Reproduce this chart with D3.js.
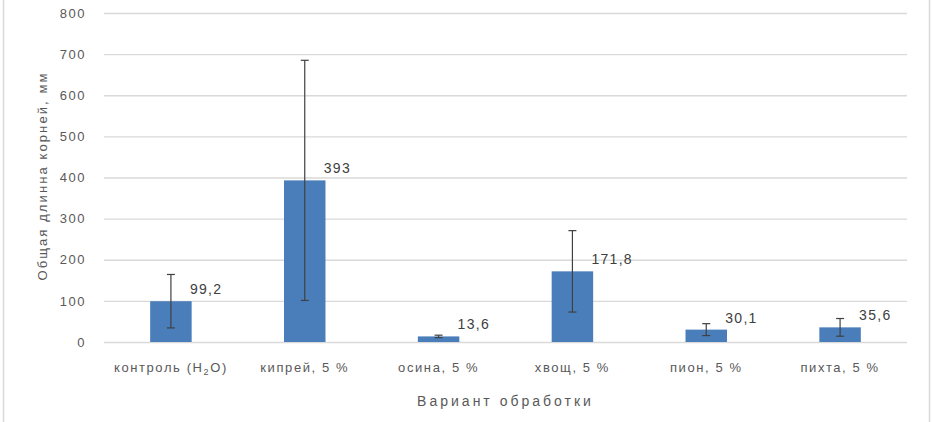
<!DOCTYPE html>
<html>
<head>
<meta charset="utf-8">
<script src="https://cdn.jsdelivr.net/npm/d3@7"></script>
<style>
  body { margin: 0; background: #fff; }
  text { font-family: "Liberation Sans", Arial, sans-serif; }
</style>
</head>
<body>
<div id="chartdiv"></div>
<script>
// data
var categories = ["контроль (H2O)", "кипрей, 5 %", "осина, 5 %", "хвощ, 5 %", "пион, 5 %", "пихта, 5 %"];
var values = [99.2, 393, 13.6, 171.8, 30.1, 35.6];
var errors = [65, 292, 3, 99, 14.5, 21.5];
var yTicks = [0, 100, 200, 300, 400, 500, 600, 700, 800];

var svgWidth = 935;
var svgHeight = 422;
var margin = { top: 13, right: 28, bottom: 80, left: 104 };
var width = svgWidth - margin.left - margin.right;
var height = svgHeight - margin.top - margin.bottom;

var svg = d3.select("#chartdiv")
    .append("svg")
    .attr("width", svgWidth)
    .attr("height", svgHeight);

// chart area border (only left and right edges are visible)
svg.append("line").attr("x1", 3.5).attr("x2", 3.5).attr("y1", 0).attr("y2", svgHeight)
    .attr("stroke", "#d9d9d9").attr("stroke-width", 1.5);
svg.append("line").attr("x1", 929.5).attr("x2", 929.5).attr("y1", 0).attr("y2", svgHeight)
    .attr("stroke", "#d9d9d9").attr("stroke-width", 1.5);

var chartGroup = svg.append("g")
    .attr("transform", `translate(${margin.left}, ${margin.top})`);

var data = categories.map(function (c, i) {
    return { cat: c, value: values[i], err: errors[i] };
});

var xScale = d3.scaleBand()
    .domain(categories)
    .range([0, width])
    .paddingInner(0.69)
    .paddingOuter(0.345);

var yScale = d3.scaleLinear()
    .domain([0, 800])
    .range([height, 0]);

// gridlines + y ticks
var leftAxis = d3.axisLeft(yScale)
    .tickValues(yTicks)
    .tickSize(-width)
    .tickPadding(18);

var yAxisG = chartGroup.append("g").call(leftAxis);
yAxisG.select(".domain").remove();
yAxisG.selectAll(".tick line").attr("stroke", "#d9d9d9").attr("stroke-width", 1.3);
yAxisG.selectAll(".tick text")
    .attr("fill", "#595959")
    .style("font-size", "13px")
    .style("letter-spacing", "1.5px");

// x category labels
var bottomAxis = d3.axisBottom(xScale).tickSize(0).tickPadding(21);
var xAxisG = chartGroup.append("g")
    .attr("transform", `translate(0, ${height})`)
    .call(bottomAxis);
xAxisG.select(".domain").remove();
xAxisG.selectAll(".tick text")
    .attr("fill", "#595959")
    .style("font-size", "13px")
    .style("letter-spacing", "1.6px")
    .each(function (d) {
        if (d.indexOf("H2O") >= 0) {
            var t = d3.select(this);
            t.text("");
            t.append("tspan").text("контроль (H");
            t.append("tspan").text("2").style("font-size", "9px").attr("dy", 3);
            t.append("tspan").text("O)").attr("dy", -3);
        }
    });

// bars
chartGroup.selectAll("rect.bar")
    .data(data)
    .enter()
    .append("rect")
    .attr("class", "bar")
    .attr("x", d => xScale(d.cat))
    .attr("y", d => yScale(d.value))
    .attr("width", xScale.bandwidth())
    .attr("height", d => height - yScale(d.value))
    .attr("fill", "#4a7ebb");

// error bars
var cx = d => xScale(d.cat) + xScale.bandwidth() / 2;
var eb = chartGroup.selectAll("g.err")
    .data(data)
    .enter()
    .append("g")
    .attr("class", "err")
    .attr("stroke", "#404040")
    .attr("stroke-width", 1.2);

eb.append("line")
    .attr("x1", cx).attr("x2", cx)
    .attr("y1", d => yScale(d.value + d.err))
    .attr("y2", d => yScale(Math.max(0, d.value - d.err)));
eb.append("line")
    .attr("x1", d => cx(d) - 4).attr("x2", d => cx(d) + 4)
    .attr("y1", d => yScale(d.value + d.err))
    .attr("y2", d => yScale(d.value + d.err));
eb.append("line")
    .attr("x1", d => cx(d) - 4).attr("x2", d => cx(d) + 4)
    .attr("y1", d => yScale(Math.max(0, d.value - d.err)))
    .attr("y2", d => yScale(Math.max(0, d.value - d.err)));

// value labels
chartGroup.selectAll("text.lbl")
    .data(data)
    .enter()
    .append("text")
    .attr("class", "lbl")
    .attr("x", d => cx(d) + 19)
    .attr("y", d => yScale(d.value) - 7)
    .attr("fill", "#404040")
    .style("font-size", "14px")
    .style("letter-spacing", "1.3px")
    .text(d => String(d.value).replace(".", ","));

// axis titles
chartGroup.append("text")
    .attr("transform", "rotate(-90)")
    .attr("x", 0 - 163)
    .attr("y", -57)
    .attr("text-anchor", "middle")
    .attr("fill", "#595959")
    .style("font-size", "13px")
    .style("letter-spacing", "2.1px")
    .text("Общая длинна корней, мм");

chartGroup.append("text")
    .attr("x", width / 2)
    .attr("y", height + 64)
    .attr("text-anchor", "middle")
    .attr("fill", "#595959")
    .style("font-size", "14px")
    .style("letter-spacing", "3px")
    .text("Вариант обработки");
</script>
</body>
</html>
